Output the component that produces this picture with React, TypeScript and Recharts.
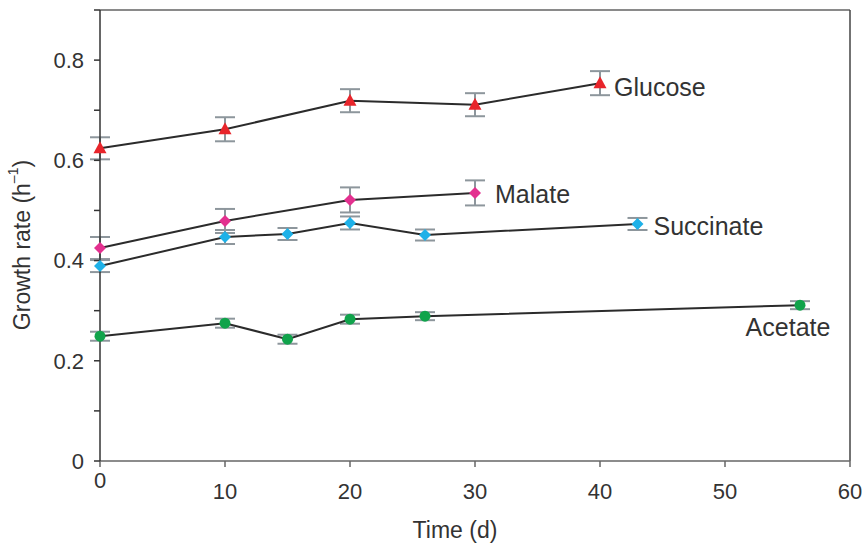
import {
  LineChart,
  Line,
  XAxis,
  YAxis,
  ErrorBar,
  LabelList,
  ReferenceLine,
} from "recharts";

// values
const xTicks = [0, 10, 20, 30, 40, 50, 60];
const yTicks = [0, 0.1, 0.2, 0.3, 0.4, 0.5, 0.6, 0.7, 0.8, 0.9];

const glucoseTime = [0, 10, 20, 30, 40];
const glucoseRate = [0.624, 0.662, 0.719, 0.711, 0.754];
const glucoseErr = [0.022, 0.024, 0.023, 0.023, 0.024];

const malateTime = [0, 10, 20, 30];
const malateRate = [0.425, 0.479, 0.521, 0.535];
const malateErr = [0.022, 0.024, 0.025, 0.025];

const succinateTime = [0, 10, 15, 20, 26, 43];
const succinateRate = [0.389, 0.447, 0.453, 0.475, 0.451, 0.473];
const succinateErr = [0.012, 0.014, 0.012, 0.013, 0.011, 0.012];

const acetateTime = [0, 10, 15, 20, 26, 56];
const acetateRate = [0.249, 0.275, 0.243, 0.283, 0.289, 0.311];
const acetateErr = [0.009, 0.009, 0.009, 0.009, 0.008, 0.008];

const toRows = (t: number[], r: number[], e: number[]) =>
  t.map((x, i) => ({ x, y: r[i], e: e[i] }));

const FONT = "'Liberation Sans', Arial, sans-serif";
const TEXT = "#333";
const ERR = "#8d969c";

type Shape = "triangle" | "diamond" | "circle";

const makeDot = (shape: Shape, color: string) => (props: any) => {
  const { cx, cy, index } = props;
  const key = `dot-${shape}-${color}-${index}`;
  if (cx == null || cy == null) return <g key={key} />;
  if (shape === "triangle") {
    return (
      <polygon
        key={key}
        points={`${cx},${cy - 7} ${cx - 6.5},${cy + 5} ${cx + 6.5},${cy + 5}`}
        fill={color}
      />
    );
  }
  if (shape === "diamond") {
    return (
      <polygon
        key={key}
        points={`${cx},${cy - 6} ${cx + 6},${cy} ${cx},${cy + 6} ${cx - 6},${cy}`}
        fill={color}
      />
    );
  }
  return <circle key={key} cx={cx} cy={cy} r={5.5} fill={color} />;
};

// name label next to the last point of a series
const endLabel =
  (name: string, last: number, dx: number, dy: number, anchor: string) =>
  (props: any) => {
    const { x, y, index } = props;
    if (index !== last) return null;
    return (
      <text
        x={Number(x) + dx}
        y={Number(y) + dy}
        textAnchor={anchor as any}
        fontSize={25}
        fontFamily={FONT}
        fill={TEXT}
      >
        {name}
      </text>
    );
  };

const series = [
  {
    name: "Glucose",
    rows: toRows(glucoseTime, glucoseRate, glucoseErr),
    shape: "triangle" as Shape,
    color: "#e8252b",
    lab: [14, 13, "start"],
  },
  {
    name: "Malate",
    rows: toRows(malateTime, malateRate, malateErr),
    shape: "diamond" as Shape,
    color: "#e3308f",
    lab: [20, 10, "start"],
  },
  {
    name: "Succinate",
    rows: toRows(succinateTime, succinateRate, succinateErr),
    shape: "diamond" as Shape,
    color: "#1eb1e8",
    lab: [16, 11, "start"],
  },
  {
    name: "Acetate",
    rows: toRows(acetateTime, acetateRate, acetateErr),
    shape: "circle" as Shape,
    color: "#10a34b",
    lab: [-12, 31, "middle"],
  },
];

const XTick = (props: any) => {
  const { x, y, payload } = props;
  const v = payload.value;
  return (
    <text
      x={x}
      y={y + (v === 0 ? 19 : 30)}
      textAnchor="middle"
      fontSize={22}
      fontFamily={FONT}
      fill={TEXT}
    >
      {v}
    </text>
  );
};

const yFmt = (v: number) => {
  const r = Math.round(v * 10);
  if (r === 0) return "0";
  if (r % 2 === 1 || r === 9) return "";
  return (r / 10).toFixed(1);
};

export default function App() {
  return (
    <div style={{ position: "absolute", left: 0, top: 0, background: "#fff" }}>
      <LineChart
        width={866}
        height={548}
        margin={{ top: 10, right: 16, bottom: 0, left: 0 }}
      >
        <XAxis
          type="number"
          dataKey="x"
          domain={[0, 60]}
          ticks={xTicks}
          height={87}
          allowDuplicatedCategory={false}
          tick={<XTick />}
          tickSize={6}
          stroke="#666"
          strokeWidth={1.5}
          label={(p: any) => (
            <text
              x={455}
              y={538}
              textAnchor="middle"
              fontSize={23}
              fontFamily={FONT}
              fill={TEXT}
            >
              Time (d)
            </text>
          )}
        />
        <YAxis
          type="number"
          domain={[0, 0.9]}
          ticks={yTicks}
          width={100}
          tickSize={6}
          tickMargin={10}
          tickFormatter={yFmt}
          tick={{ fontSize: 22, fontFamily: FONT, fill: TEXT }}
          stroke="#333"
          strokeWidth={1.5}
          label={(p: any) => (
            <text
              x={22}
              y={245}
              transform="rotate(-90, 22, 245)"
              textAnchor="middle"
              dominantBaseline="central"
              fontSize={23}
              fontFamily={FONT}
              fill={TEXT}
            >
              Growth rate (h
              <tspan dy={-9} fontSize={14}>
                –1
              </tspan>
              <tspan dy={9}>)</tspan>
            </text>
          )}
        />
        <ReferenceLine y={0.9} stroke="#8a8a8a" strokeWidth={2} />
        <ReferenceLine x={60} stroke="#444" strokeWidth={1.5} />
        {series.map((s) => (
          <Line
            key={s.name}
            data={s.rows}
            dataKey="y"
            type="linear"
            stroke="#2b2b2b"
            strokeWidth={2}
            dot={makeDot(s.shape, s.color)}
            activeDot={false}
            isAnimationActive={false}
          >
            <ErrorBar
              dataKey="e"
              direction="y"
              width={10}
              stroke={ERR}
              strokeWidth={2}
            />
            <LabelList
              dataKey="y"
              content={endLabel(
                s.name,
                s.rows.length - 1,
                s.lab[0] as number,
                s.lab[1] as number,
                s.lab[2] as string
              )}
            />
          </Line>
        ))}
      </LineChart>
    </div>
  );
}
